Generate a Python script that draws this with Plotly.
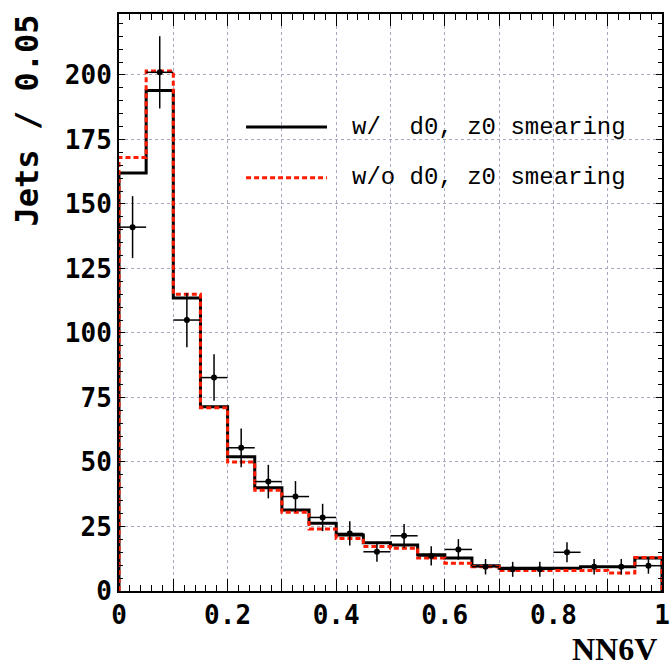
import plotly.graph_objects as go

# ---- data ----
bin_edges = [round(0.05 * i, 2) for i in range(21)]
bin_centers = [round(0.025 + 0.05 * i, 3) for i in range(20)]
with_smearing = [162, 194, 113.5, 71.4, 52, 40, 31.4, 26.3, 21.7, 18.7,
                 17.8, 14, 12.8, 9.8, 8.8, 8.8, 8.8, 9.4, 9.4, 12.8]
without_smearing = [168, 201.5, 115, 71, 50, 39, 30.5, 24, 20.3, 17.2,
                    16.6, 12.8, 10.8, 9.4, 7.9, 7.9, 7.9, 7.9, 7, 13]
data_counts = [141, 201, 105, 82.7, 55.5, 42.4, 36.6, 28.5, 22.3, 15.2,
               21.4, 13.6, 16.1, 9.4, 8.4, 8.4, 15, 9.4, 9.4, 9.8]
data_errors = [12, 14, 10.5, 9, 7.5, 6.5, 6, 5.3, 4.7, 3.9,
               4.6, 3.7, 4, 3, 2.9, 2.9, 3.9, 3, 3, 3.1]
x_tick_vals = [0, 0.1, 0.2, 0.3, 0.4, 0.5, 0.6, 0.7, 0.8, 0.9, 1.0]
x_tick_text = ["0", "", "0.2", "", "0.4", "", "0.6", "", "0.8", "", "1"]
y_tick_vals = [0, 25, 50, 75, 100, 125, 150, 175, 200]
legend_labels = ["w/  d0, z0 smearing", "w/o d0, z0 smearing"]


def step_xy(edges, vals):
    xs = [edges[0]]
    ys = [0]
    for i, v in enumerate(vals):
        xs += [edges[i], edges[i + 1]]
        ys += [v, v]
    xs.append(edges[-1])
    ys.append(0)
    return xs, ys


fig = go.Figure()

xb, yb = step_xy(bin_edges, with_smearing)
fig.add_trace(go.Scatter(x=xb, y=yb, mode="lines",
                         line=dict(color="black", width=3), showlegend=False))
xr, yr = step_xy(bin_edges, without_smearing)
fig.add_trace(go.Scatter(x=xr, y=yr, mode="lines",
                         line=dict(color="#ff1a00", width=3, dash="5px,3px"),
                         showlegend=False))
fig.add_trace(go.Scatter(
    x=bin_centers, y=data_counts, mode="markers",
    marker=dict(color="black", size=6),
    error_y=dict(type="data", array=data_errors, color="black", thickness=1.5, width=0),
    error_x=dict(type="constant", value=0.025, color="black", thickness=1.5, width=0),
    showlegend=False))

tick_font = dict(family="DejaVu Sans Mono", size=26, color="black", weight="bold")
grid_col = "#a8a8c0"

fig.update_xaxes(range=[0, 1], tickvals=x_tick_vals, ticktext=x_tick_text,
                 ticks="inside", ticklen=12, tickcolor="black", tickwidth=1,
                 minor=dict(dtick=0.02, ticks="inside", ticklen=6, tickcolor="black", showgrid=False),
                 showline=True, linecolor="black", linewidth=2, mirror="allticks",
                 showgrid=True, gridcolor=grid_col, griddash="dot", gridwidth=1,
                 tickfont=tick_font, zeroline=False, ticklabeloverflow="allow")
fig.update_yaxes(range=[0, 223.6], tickvals=y_tick_vals,
                 ticks="inside", ticklen=6, tickcolor="black", tickwidth=1,
                 minor=dict(dtick=5, ticks="inside", ticklen=4, tickcolor="black", showgrid=False),
                 showline=True, linecolor="black", linewidth=2, mirror="allticks",
                 showgrid=True, gridcolor=grid_col, griddash="dot", gridwidth=1,
                 tickfont=tick_font, zeroline=False, ticklabeloverflow="allow")

# legend drawn manually
fig.add_shape(type="line", xref="paper", yref="paper", x0=0.234, x1=0.383, y0=0.804, y1=0.804,
              line=dict(color="black", width=3))
fig.add_shape(type="line", xref="paper", yref="paper", x0=0.234, x1=0.383, y0=0.716, y1=0.716,
              line=dict(color="#ff1a00", width=3, dash="5px,3px"))
for lab, yy in zip(legend_labels, [0.804, 0.716]):
    fig.add_annotation(xref="paper", yref="paper", x=0.425, y=yy, text=lab.replace(" ", "&nbsp;"),
                       showarrow=False, xanchor="left", yanchor="middle",
                       font=dict(family="Liberation Mono", size=24, color="black"))

fig.add_annotation(xref="paper", yref="paper", x=-0.17, y=0.815, text="Jets / 0.05",
                   textangle=-90, showarrow=False, xanchor="center", yanchor="middle",
                   font=dict(family="DejaVu Sans Mono", size=32, color="black", weight="bold"))
fig.add_annotation(xref="paper", yref="paper", x=0.913, y=-0.1005, text="NN6V",
                   showarrow=False, xanchor="center", yanchor="middle",
                   font=dict(family="Liberation Serif", size=32, color="black", weight="bold"))

fig.update_layout(width=672, height=667, margin=dict(l=119, r=2, t=14, b=76),
                  plot_bgcolor="white", paper_bgcolor="white", showlegend=False)

fig.write_html("out.html")
